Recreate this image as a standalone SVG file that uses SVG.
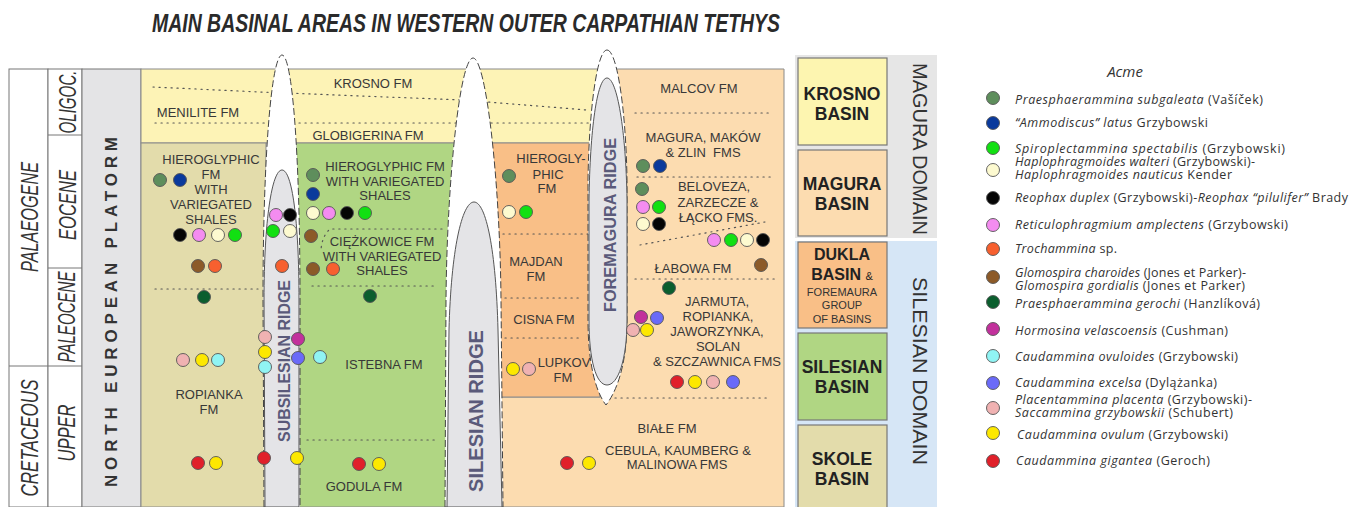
<svg xmlns="http://www.w3.org/2000/svg" width="1362" height="507" viewBox="0 0 1362 507">
<style>
.fm{font-family:"Liberation Sans",Arial,sans-serif;font-size:13px;fill:#383838;text-anchor:middle}
.ep{font-family:"Liberation Sans",Arial,sans-serif;font-style:italic;fill:#333;text-anchor:middle}
.rt{font-family:"Liberation Sans",Arial,sans-serif;font-weight:bold;fill:#5a5a7a;text-anchor:middle}
.bx{font-family:"Liberation Sans",Arial,sans-serif;font-weight:bold;font-size:17.5px;fill:#222;text-anchor:middle}
.sm{font-family:"Liberation Sans",Arial,sans-serif;font-size:11px;fill:#333;text-anchor:middle}
.dm{font-family:"Liberation Sans",Arial,sans-serif;font-size:20px;fill:#333;text-anchor:middle}
.lg{font-family:"Open Sans","Noto Sans",sans-serif;font-size:12.5px;fill:#333}
.lg .i{font-style:italic}
.dot{fill:none;stroke:#555;stroke-width:1.2;stroke-dasharray:1.2 4.8;stroke-linecap:round}
.edge{stroke:#8a8a8a;stroke-width:1}
.outer{fill:#fff;stroke:#444;stroke-width:1;stroke-dasharray:7 3}
.inner{fill:#e4e4e7;stroke:#555;stroke-width:1}
circle{stroke:#555;stroke-width:0.9}
.gg{fill:#5e8e5c}.db{fill:#0a3a9c}.gr{fill:#12e012}.cr{fill:#fdfad0}.bk{fill:#050505}
.pk{fill:#f48cf0}.or{fill:#f7602f}.br{fill:#8c5a28}.dg{fill:#0b5e2e}.mg{fill:#c2319c}
.cy{fill:#90f4f4}.vi{fill:#6a6af8}.lp{fill:#f0b2b2}.ye{fill:#fde800}.rd{fill:#e0202a}
</style>

<text x="152" y="32" font-family="Liberation Sans, Arial, sans-serif" font-weight="bold" font-style="italic" font-size="25" fill="#2a2a2a" textLength="628" lengthAdjust="spacingAndGlyphs">MAIN BASINAL AREAS IN WESTERN OUTER CARPATHIAN TETHYS</text>

<g id="stratigraphy">
  <rect x="9" y="69" width="39" height="438" fill="#fff" stroke="#777"/>
  <line x1="9" y1="366" x2="48" y2="366" stroke="#777"/>
  <rect x="48" y="69" width="34" height="438" fill="#fff" stroke="#777"/>
  <line x1="48" y1="135" x2="82" y2="135" stroke="#777"/>
  <line x1="48" y1="268" x2="82" y2="268" stroke="#777"/>
  <line x1="48" y1="366" x2="82" y2="366" stroke="#777"/>
  <text class="ep" font-size="24" transform="translate(38,217) rotate(-90)" textLength="110" lengthAdjust="spacingAndGlyphs">PALAEOGENE</text>
  <text class="ep" font-size="24" transform="translate(38,438) rotate(-90)" textLength="117" lengthAdjust="spacingAndGlyphs">CRETACEOUS</text>
  <text class="ep" font-size="23" transform="translate(76,102) rotate(-90)" textLength="63" lengthAdjust="spacingAndGlyphs">OLIGOC.</text>
  <text class="ep" font-size="23" transform="translate(76,205) rotate(-90)" textLength="70" lengthAdjust="spacingAndGlyphs">EOCENE</text>
  <text class="ep" font-size="23" transform="translate(75,317) rotate(-90)" textLength="91" lengthAdjust="spacingAndGlyphs">PALEOCENE</text>
  <text class="ep" font-size="23" transform="translate(75,433) rotate(-90)" textLength="57" lengthAdjust="spacingAndGlyphs">UPPER</text>
</g>

<g id="north-european-platform">
  <rect x="82" y="69" width="59" height="438" fill="#e4e4e6" stroke="#777"/>
  <text class="rt" font-size="17" style="fill:#333" transform="translate(117,312) rotate(-90)" textLength="350" lengthAdjust="spacing">NORTH EUROPEAN PLATORM</text>
</g>

<g id="magura-basin-area">
  <path class="edge" d="M600,69 H784 V507 H490 V397 H600 Z" fill="#fcdcb0"/>
</g>
<g id="krosno-band">
  <rect class="edge" x="141" y="69" width="459" height="74" fill="#fdf3b6"/>
</g>
<g id="skole-basin-area">
  <rect class="edge" x="141" y="143" width="125" height="364" fill="#e3dcab"/>
</g>
<g id="silesian-basin-area">
  <rect class="edge" x="296" y="143" width="160" height="364" fill="#b0d683"/>
</g>
<g id="dukla-basin-area">
  <rect class="edge" x="490" y="143" width="110" height="254" fill="#f9bf87"/>
</g>

<g id="boundaries">
  <polyline class="dot" points="153,87 260,92 463,100 587,110"/>
  <line class="dot" x1="155" y1="123" x2="590" y2="123"/>
  <line class="dot" x1="155" y1="289" x2="258" y2="289"/>
  <path class="dot" d="M442,229 L330,229 Q322,236 321,250"/>
  <line class="dot" x1="312" y1="286" x2="435" y2="286"/>
  <line class="dot" x1="307" y1="440" x2="437" y2="440"/>
  <line class="dot" x1="497" y1="234" x2="592" y2="234"/>
  <line class="dot" x1="505" y1="298" x2="582" y2="298"/>
  <line class="dot" x1="505" y1="338" x2="582" y2="338"/>
  <line class="dot" x1="635" y1="113" x2="770" y2="113"/>
  <line class="dot" x1="637" y1="177" x2="772" y2="177"/>
  <line class="dot" x1="640" y1="245" x2="765" y2="222"/>
  <line class="dot" x1="635" y1="279" x2="777" y2="279"/>
  <line class="dot" x1="615" y1="398" x2="770" y2="398"/>
</g>

<g id="subsilesian-ridge">
  <path class="outer" d="M264,507 L263,300 C263,150 272,55 282,55 C292,55 300,150 300,300 L300,507 Z"/>
  <path class="inner" d="M265,507 L264,300 C264,220 272,170 282,170 C292,170 299,220 299,300 L299,507 Z"/>
  <text class="rt" font-size="17" transform="translate(290,361) rotate(-90)" textLength="162" lengthAdjust="spacingAndGlyphs">SUBSILESIAN RIDGE</text>
</g>
<g id="silesian-ridge">
  <path class="outer" d="M445,507 L446,300 C447,180 460,58 473,58 C486,58 500,180 501,300 L503,507 Z"/>
  <path class="inner" d="M447,507 L449,330 C451,250 462,202 474,202 C486,202 496,250 498,330 L502,507 Z"/>
  <text class="rt" font-size="20" transform="translate(483,411) rotate(-90)" textLength="162" lengthAdjust="spacingAndGlyphs">SILESIAN RIDGE</text>
</g>
<g id="foremagura-ridge">
  <path class="outer" d="M607,50 C617,50 626,110 627,180 L627,320 C627,370 614,395 606,405 C598,395 588,370 588,320 L588,180 C589,110 597,50 607,50 Z"/>
  <path class="inner" d="M607,78 C617,78 626,130 627,200 L627,320 C627,360 618,385 607,385 C596,385 589,360 589,320 L589,200 C590,130 597,78 607,78 Z"/>
  <text class="rt" font-size="17" transform="translate(616,225) rotate(-90)" textLength="174" lengthAdjust="spacingAndGlyphs">FOREMAGURA RIDGE</text>
</g>

<g id="formations">
  <text class="fm" x="373" y="88">KROSNO FM</text>
  <text class="fm" x="198" y="117">MENILITE FM</text>
  <text class="fm" x="368" y="140">GLOBIGERINA FM</text>
  <text class="fm" x="211" y="164">HIEROGLYPHIC</text>
  <text class="fm" x="211" y="179">FM</text>
  <text class="fm" x="211" y="194">WITH</text>
  <text class="fm" x="211" y="209">VARIEGATED</text>
  <text class="fm" x="211" y="224">SHALES</text>
  <text class="fm" x="209" y="399">ROPIANKA</text>
  <text class="fm" x="209" y="414">FM</text>
  <text class="fm" x="385" y="171">HIEROGLYPHIC FM</text>
  <text class="fm" x="385" y="186">WITH VARIEGATED</text>
  <text class="fm" x="385" y="200">SHALES</text>
  <text class="fm" x="382" y="246">CIĘŻKOWICE FM</text>
  <text class="fm" x="382" y="261">WITH VARIEGATED</text>
  <text class="fm" x="382" y="275">SHALES</text>
  <text class="fm" x="384" y="369">ISTEBNA FM</text>
  <text class="fm" x="364" y="491">GODULA FM</text>
  <text class="fm" x="551" y="163">HIEROGLY-</text>
  <text class="fm" x="548" y="179">PHIC</text>
  <text class="fm" x="547" y="193">FM</text>
  <text class="fm" x="536" y="266">MAJDAN</text>
  <text class="fm" x="536" y="281">FM</text>
  <text class="fm" x="544" y="324">CISNA FM</text>
  <text class="fm" x="564" y="367">LUPKOV</text>
  <text class="fm" x="563" y="382">FM</text>
  <text class="fm" x="699" y="93">MALCOV FM</text>
  <text class="fm" x="703" y="142">MAGURA, MAKÓW</text>
  <text class="fm" x="703" y="157" xml:space="preserve">&amp; ZLIN  FMS</text>
  <text class="fm" x="714" y="191">BELOVEZA,</text>
  <text class="fm" x="718" y="207">ZARZECZE &amp;</text>
  <text class="fm" x="718" y="222">ŁĄCKO FMS.</text>
  <text class="fm" x="693" y="273">ŁABOWA FM</text>
  <text class="fm" x="717" y="306">JARMUTA,</text>
  <text class="fm" x="718" y="321">ROPIANKA,</text>
  <text class="fm" x="717" y="336">JAWORZYNKA,</text>
  <text class="fm" x="718" y="351">SOLAN</text>
  <text class="fm" x="717" y="366">&amp; SZCZAWNICA FMS</text>
  <text class="fm" x="667" y="433">BIAŁE FM</text>
  <text class="fm" x="678" y="455">CEBULA, KAUMBERG &amp;</text>
  <text class="fm" x="677" y="469">MALINOWA FMS</text>
</g>

<g id="acme-markers">
  <circle class="gg" cx="160" cy="180" r="6.5"/><circle class="db" cx="180" cy="180" r="6.5"/>
  <circle class="bk" cx="180" cy="235" r="6.5"/><circle class="pk" cx="199" cy="235" r="6.5"/><circle class="cr" cx="218" cy="235" r="6.5"/><circle class="gr" cx="235" cy="235" r="6.5"/>
  <circle class="br" cx="198" cy="266" r="6.5"/><circle class="or" cx="215" cy="266" r="6.5"/>
  <circle class="dg" cx="204" cy="297" r="6.5"/>
  <circle class="lp" cx="183" cy="360" r="6.5"/><circle class="ye" cx="202" cy="360" r="6.5"/><circle class="cy" cx="218" cy="360" r="6.5"/>
  <circle class="rd" cx="198" cy="463" r="6.5"/><circle class="ye" cx="216" cy="463" r="6.5"/>

  <circle class="pk" cx="276" cy="215" r="6.5"/><circle class="bk" cx="290" cy="215" r="6.5"/>
  <circle class="gr" cx="273" cy="231" r="6.5"/><circle class="cr" cx="290" cy="231" r="6.5"/>
  <circle class="or" cx="282" cy="266" r="6.5"/>
  <circle class="lp" cx="265" cy="337" r="6.5"/><circle class="ye" cx="265" cy="352" r="6.5"/><circle class="cy" cx="265" cy="367" r="6.5"/>
  <circle class="mg" cx="298" cy="339" r="6.5"/><circle class="vi" cx="298" cy="358" r="6.5"/>
  <circle class="rd" cx="264" cy="458" r="6.5"/><circle class="ye" cx="297" cy="458" r="6.5"/>

  <circle class="gg" cx="313" cy="175" r="6.5"/><circle class="db" cx="313" cy="194" r="6.5"/>
  <circle class="cr" cx="313" cy="213" r="6.5"/><circle class="pk" cx="329" cy="213" r="6.5"/><circle class="bk" cx="347" cy="213" r="6.5"/><circle class="gr" cx="365" cy="213" r="6.5"/>
  <circle class="br" cx="311" cy="236" r="6.5"/>
  <circle class="br" cx="313" cy="269" r="6.5"/><circle class="or" cx="333" cy="269" r="6.5"/>
  <circle class="dg" cx="370" cy="296" r="6.5"/>
  <circle class="cy" cx="320" cy="357" r="6.5"/>
  <circle class="rd" cx="359" cy="464" r="6.5"/><circle class="ye" cx="379" cy="464" r="6.5"/>

  <circle class="gg" cx="509" cy="176" r="6.5"/>
  <circle class="cr" cx="509" cy="212" r="6.5"/><circle class="gr" cx="526" cy="212" r="6.5"/>
  <circle class="ye" cx="513" cy="369" r="6.5"/><circle class="lp" cx="529" cy="369" r="6.5"/>

  <circle class="gg" cx="643" cy="166" r="6.5"/><circle class="db" cx="660" cy="166" r="6.5"/>
  <circle class="gg" cx="642" cy="189" r="6.5"/>
  <circle class="pk" cx="643" cy="207" r="6.5"/><circle class="gr" cx="659" cy="207" r="6.5"/>
  <circle class="cr" cx="643" cy="224" r="6.5"/><circle class="bk" cx="659" cy="224" r="6.5"/>
  <circle class="pk" cx="714" cy="240" r="6.5"/><circle class="gr" cx="731" cy="240" r="6.5"/><circle class="cr" cx="747" cy="240" r="6.5"/><circle class="bk" cx="763" cy="240" r="6.5"/>
  <circle class="br" cx="761" cy="265" r="6.5"/>
  <circle class="dg" cx="669" cy="288" r="6.5"/>
  <circle class="mg" cx="641" cy="317" r="6.5"/><circle class="vi" cx="657" cy="318" r="6.5"/>
  <circle class="lp" cx="633" cy="330" r="6.5"/><circle class="ye" cx="647" cy="330" r="6.5"/>
  <circle class="rd" cx="677" cy="382" r="6.5"/><circle class="ye" cx="695" cy="382" r="6.5"/><circle class="lp" cx="713" cy="382" r="6.5"/><circle class="vi" cx="733" cy="382" r="6.5"/>
  <circle class="rd" cx="567" cy="463" r="6.5"/><circle class="ye" cx="589" cy="463" r="6.5"/>
</g>

<g id="magura-domain">
  <rect x="795" y="55" width="142" height="183" fill="#e6e6e6"/>
  <text class="dm" transform="translate(913,149) rotate(90)" textLength="172" lengthAdjust="spacingAndGlyphs">MAGURA DOMAIN</text>
</g>
<g id="silesian-domain">
  <rect x="795" y="241" width="142" height="266" fill="#d6e6f6"/>
  <text class="dm" style="font-size:21px" transform="translate(913,371) rotate(90)" textLength="188" lengthAdjust="spacingAndGlyphs">SILESIAN DOMAIN</text>
</g>
<g id="krosno-basin">
  <rect x="798" y="58" width="89" height="87" fill="#fdf5b0" stroke="#777" stroke-width="1.2"/>
  <text class="bx" x="842" y="100">KROSNO</text>
  <text class="bx" x="842" y="120">BASIN</text>
</g>
<g id="magura-basin">
  <rect x="798" y="150" width="89" height="86" fill="#fcdcb0" stroke="#777" stroke-width="1.2"/>
  <text class="bx" x="842" y="190">MAGURA</text>
  <text class="bx" x="842" y="210">BASIN</text>
</g>
<g id="dukla-basin">
  <rect x="798" y="242" width="89" height="86" fill="#f9bf87" stroke="#777" stroke-width="1.2"/>
  <text class="bx" x="842" y="260" style="font-size:16px">DUKLA</text>
  <text class="bx" x="842" y="280" style="font-size:16px">BASIN <tspan style="font-size:11px;font-weight:normal">&amp;</tspan></text>
  <text class="sm" x="842" y="296">FOREMAURA</text>
  <text class="sm" x="842" y="309">GROUP</text>
  <text class="sm" x="842" y="323">OF BASINS</text>
</g>
<g id="silesian-basin">
  <rect x="798" y="333" width="89" height="87" fill="#b0d683" stroke="#777" stroke-width="1.2"/>
  <text class="bx" x="842" y="373">SILESIAN</text>
  <text class="bx" x="842" y="393">BASIN</text>
</g>
<g id="skole-basin">
  <rect x="798" y="425" width="89" height="90" fill="#e3dcab" stroke="#777" stroke-width="1.2"/>
  <text class="bx" x="842" y="465">SKOLE</text>
  <text class="bx" x="842" y="485">BASIN</text>
</g>

<g id="legend">
  <text x="1125" y="77" font-family="Open Sans, Noto Sans, sans-serif" font-size="15" font-style="italic" fill="#333" text-anchor="middle">Acme</text>
  <circle class="gg" cx="993" cy="98" r="6.5"/>
  <text class="lg" x="1015" y="104" textLength="248"><tspan class="i">Praesphaerammina subgaleata</tspan> (Vašíček)</text>
  <circle class="db" cx="993" cy="123" r="6.5"/>
  <text class="lg" x="1015" y="127" textLength="193"><tspan class="i">“Ammodiscus” latus</tspan> Grzybowski</text>
  <circle class="gr" cx="993" cy="148" r="6.5"/>
  <text class="lg" x="1015" y="153" textLength="270"><tspan class="i">Spiroplectammina spectabilis</tspan> (Grzybowski)</text>
  <circle class="cr" cx="993" cy="170" r="6.5"/>
  <text class="lg" x="1015" y="166" textLength="240"><tspan class="i">Haplophragmoides walteri</tspan> (Grzybowski)-</text>
  <text class="lg" x="1015" y="179" textLength="217"><tspan class="i">Haplophragmoides nauticus</tspan> Kender</text>
  <circle class="bk" cx="993" cy="198" r="6.5"/>
  <text class="lg" x="1015" y="202" textLength="333"><tspan class="i">Reophax duplex</tspan> (Grzybowski)-<tspan class="i">Reophax “pilulifer”</tspan> Brady</text>
  <circle class="pk" cx="993" cy="225" r="6.5"/>
  <text class="lg" x="1015" y="229" textLength="273"><tspan class="i">Reticulophragmium amplectens</tspan> (Grzybowski)</text>
  <circle class="or" cx="993" cy="249" r="6.5"/>
  <text class="lg" x="1015" y="253" textLength="102"><tspan class="i">Trochammina</tspan> sp.</text>
  <circle class="br" cx="993" cy="277" r="6.5"/>
  <text class="lg" x="1015" y="277" textLength="231"><tspan class="i">Glomospira charoides</tspan> (Jones et Parker)-</text>
  <text class="lg" x="1015" y="290" textLength="230"><tspan class="i">Glomospira gordialis</tspan> (Jones et Parker)</text>
  <circle class="dg" cx="993" cy="302" r="6.5"/>
  <text class="lg" x="1015" y="308" textLength="245"><tspan class="i">Praesphaerammina gerochi</tspan> (Hanzlíková)</text>
  <circle class="mg" cx="993" cy="329" r="6.5"/>
  <text class="lg" x="1015" y="335" textLength="213"><tspan class="i">Hormosina velascoensis</tspan> (Cushman)</text>
  <circle class="cy" cx="993" cy="356" r="6.5"/>
  <text class="lg" x="1015" y="361" textLength="223"><tspan class="i">Caudammina ovuloides</tspan> (Grzybowski)</text>
  <circle class="vi" cx="993" cy="383" r="6.5"/>
  <text class="lg" x="1015" y="387" textLength="202"><tspan class="i">Caudammina excelsa</tspan> (Dylążanka)</text>
  <circle class="lp" cx="993" cy="408" r="6.5"/>
  <text class="lg" x="1015" y="404" textLength="237"><tspan class="i">Placentammina placenta</tspan> (Grzybowski)-</text>
  <text class="lg" x="1015" y="417" textLength="218"><tspan class="i">Saccammina grzybowskii</tspan> (Schubert)</text>
  <circle class="ye" cx="993" cy="433" r="6.5"/>
  <text class="lg" x="1017" y="439" textLength="211"><tspan class="i">Caudammina ovulum</tspan> (Grzybowski)</text>
  <circle class="rd" cx="993" cy="461" r="6.5"/>
  <text class="lg" x="1016" y="465" textLength="194"><tspan class="i">Caudammina gigantea</tspan> (Geroch)</text>
</g>
</svg>
